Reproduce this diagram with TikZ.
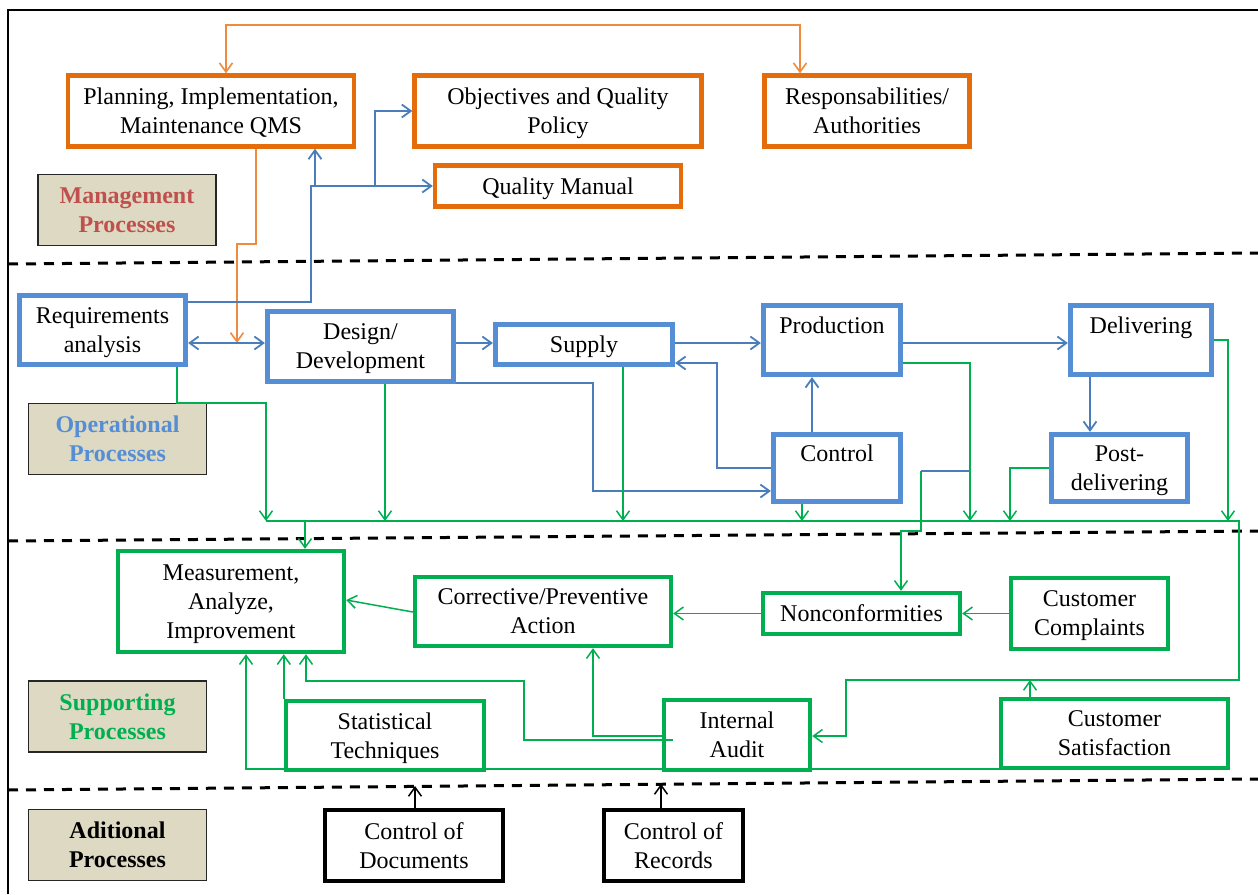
\documentclass[tikz,border=0pt]{standalone}
\usepackage{fontspec}
\setmainfont{Liberation Serif}
\usepackage{tikz}
\usetikzlibrary{arrows.meta}
\definecolor{mgmtc}{HTML}{E46C0A}
\definecolor{mgmtl}{HTML}{F08A3C}
\definecolor{mgmtt}{HTML}{C0504D}
\definecolor{operc}{HTML}{558ED5}
\definecolor{operl}{HTML}{4A7EBB}
\definecolor{suppc}{HTML}{00B050}
\definecolor{labelc}{HTML}{DDD9C3}

\begin{document}
\begin{tikzpicture}[x=0.5pt, y=-0.5pt,
  box/.style={draw, fill=white, line width=2.2pt, align=center, inner sep=1pt,
    text depth=0pt, font=\fontsize{12}{14.5}\selectfont},
  mbox/.style={box, draw=mgmtc},
  obox/.style={box, draw=operc, line width=2.6pt},
  sbox/.style={box, draw=suppc},
  abox/.style={box, draw=black},
  zone/.style={draw=black!85, line width=0.8pt, fill=labelc, align=center,
    minimum width=89pt, minimum height=35.5pt, text depth=0pt,
    font=\fontsize{12}{14.5}\selectfont\bfseries},
  arr/.style={-{Straight Barb[length=4.5pt,width=6.5pt]}},
  darr/.style={{Straight Barb[length=4.5pt,width=6.5pt]}-{Straight Barb[length=4.5pt,width=6.5pt]}},
  oline/.style={mgmtl, line width=0.8pt},
  bline/.style={operl, line width=0.9pt},
  gline/.style={suppc, line width=0.75pt},
  kline/.style={black, line width=0.75pt},
  sep/.style={dash pattern=on 5pt off 4pt, line width=1.5pt}]
  \useasboundingbox (0,0) rectangle (1258,894);
  \draw[line width=1.2pt] (8,894) -- (8,10) -- (1258,10);
  \draw[sep] (8,264) -- (1258,253);
  \draw[sep] (8,541) -- (1258,531);
  \draw[sep] (8,790) -- (1258,779);

  \node[zone, text=mgmtt] (mgmt) at (127,210) {Management\\Processes};
  \node[zone, text=operc] (oper) at (117.5,439) {Operational\\Processes};
  \node[zone, text=suppc] (supp) at (117.5,716.5) {Supporting\\Processes};
  \node[zone] (addl) at (117.5,845) {Aditional\\Processes};

  \node[mbox, minimum width=143pt, minimum height=35.5pt] (plan) at (211,111) {Planning, Implementation,\\Maintenance QMS};
  \node[mbox, minimum width=143.5pt, minimum height=35.5pt] (obj) at (558,111) {Objectives and Quality\\Policy};
  \node[mbox, minimum width=102.5pt, minimum height=35.5pt] (resp) at (867,111) {Responsabilities/\\Authorities};
  \node[mbox, minimum width=123pt, minimum height=20.5pt] (qman) at (558,186) {Quality Manual};

  \node[obox, minimum width=83pt, minimum height=34.5pt] (req) at (102.5,330) {Requirements\\analysis};
  \node[obox, minimum width=93pt, minimum height=35pt] (design) at (360.5,346.5) {Design/\\Development};
  \node[obox, minimum width=88.5pt, minimum height=20pt] (supply) at (584,344.5) {Supply};
  \node[obox, minimum width=68.5pt, minimum height=34.5pt] (prod) at (832,340) {Production\\\mbox{}};
  \node[obox, minimum width=70.5pt, minimum height=34.5pt] (deliv) at (1141,340) {Delivering\\\mbox{}};
  \node[obox, minimum width=63.5pt, minimum height=33.5pt] (control) at (837,468) {Control\\\mbox{}};
  \node[obox, minimum width=68pt, minimum height=33.5pt] (post) at (1119.5,468) {Post-\\delivering};

  \node[sbox, minimum width=113pt, minimum height=50.5pt] (meas) at (231,601.5) {Measurement,\\Analyze,\\Improvement};
  \node[sbox, minimum width=128pt, minimum height=34.5pt] (corr) at (543,611.5) {Corrective/Preventive\\Action};
  \node[sbox, minimum width=98.5pt, minimum height=20.5pt] (nonc) at (861.5,613.5) {Nonconformities};
  \node[sbox, minimum width=78.5pt, minimum height=35.5pt] (compl) at (1089.5,613.5) {Customer\\Complaints};
  \node[sbox, minimum width=99pt, minimum height=34.5pt] (stat) at (385,735.5) {Statistical\\Techniques};
  \node[sbox, minimum width=73pt, minimum height=35pt] (audit) at (737,735) {Internal\\Audit};
  \node[sbox, minimum width=113.5pt, minimum height=34.5pt] (csat) at (1114.5,733.5) {Customer\\Satisfaction};

  \node[abox, minimum width=89pt, minimum height=35.5pt] (cdoc) at (414,845.5) {Control of\\Documents};
  \node[abox, minimum width=69.5pt, minimum height=35.5pt] (crec) at (673.5,845.5) {Control of\\Records};

  \draw[oline, darr] (plan.north -| 226,0) |- (800,25) -- (resp.north -| 800,0);
  \draw[oline, arr] (plan.south -| 256,0) |- (237,244) -- (237,343);
  \draw[bline, arr] (req.east |- 0,302) -| (311,186) -- (qman.west);
  \draw[bline, arr] (315,186) -- (plan.south -| 315,0);
  \draw[bline, arr] (375,186) |- (obj.west);
  \draw[bline, darr] (req.east |- 0,343) -- (design.west |- 0,343);

  \draw[bline, arr] (design.east |- 0,343) -- (supply.west |- 0,343);
  \draw[bline, arr] (supply.east |- 0,343) -- (prod.west |- 0,343);
  \draw[bline, arr] (prod.east |- 0,343) -- (deliv.west |- 0,343);
  \draw[bline, arr] (deliv.south -| 1090,0) -- (post.north -| 1090,0);
  \draw[bline, arr] (control.north -| 812,0) -- (prod.south -| 812,0);
  \draw[bline, arr] (control.west) -| (717,363) -- (supply.east |- 0,363);
  \draw[bline, arr] (design.east |- 0,383) -| (593,491) -- (control.west |- 0,491);

  \draw[gline, arr] (266,521) -- (1239,521) -- (1239,680) -- (846,680) |- (audit.east |- 0,736);
  \draw[gline, arr] (305,521) -- (meas.north -| 305,0);
  \draw[gline, arr] (req.south -| 177,0) |- (266,403) -- (266,521);
  \draw[gline, arr] (design.south -| 385,0) -- (385,521);
  \draw[gline, arr] (supply.south -| 623,0) -- (623,521);
  \draw[gline, arr] (control.south -| 802,0) -- (802,521);
  \draw[gline, arr] (prod.east |- 0,363) -| (970,521);
  \draw[gline, arr] (post.west) -| (1010,521);
  \draw[gline, arr] (deliv.east) -| (1228,521);
  \draw[bline] (970,471) -- (921,471);
  \draw[gline, arr] (921,471) |- (901,531) -- (nonc.north -| 901,0);
  \draw[gline, arr] (csat.north -| 1030,0) -- (1030,680);

  \draw[gline, arr] (corr.west |- 0,612) -- (meas.east |- 0,600);
  \draw[gline, arr] (nonc.west) -- (corr.east |- nonc.west);
  \draw[gline, arr] (compl.west) -- (nonc.east);
  \draw[gline, arr] (audit.west |- 0,736) -| (corr.south -| 593,0);
  \draw[gline, arr] (673,740) -| (524,681) -| (meas.south -| 306,0);
  \draw[gline, arr] (stat.north west) -- (stat.north west |- meas.south);
  \draw[gline, arr] (csat.west |- 0,769) -| (meas.south -| 246,0);

  \draw[kline, arr] (cdoc.north -| 415,0) -- (415,786);
  \draw[kline, arr] (crec.north -| 661,0) -- (661,784);
\end{tikzpicture}
\end{document}
